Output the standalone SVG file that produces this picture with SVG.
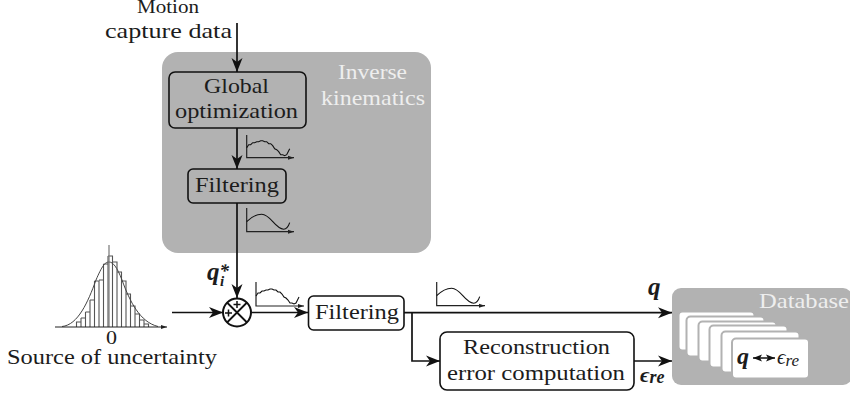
<svg xmlns="http://www.w3.org/2000/svg" width="850" height="394" viewBox="0 0 850 394">
<style>
text{font-family:"Liberation Serif","DejaVu Serif",serif;font-size:21px;fill:#1c1c1c;text-anchor:start}
.w{fill:#eeeeee}
.m{font-weight:bold;font-style:italic}
.i{font-style:italic}
.box{fill:none;stroke:#111;stroke-width:1.6}
.grayp{fill:#b2b2b2}
.card{fill:#fff;stroke:#b2b2b2;stroke-width:2}
.c{fill:none;stroke:#111;stroke-width:1.7}
.a{marker-end:url(#big)}
.ax{fill:none;stroke:#222;stroke-width:1.2;marker-end:url(#small)}
.cv{fill:none;stroke:#111;stroke-width:1.1}
</style>
<defs>
<marker id="big" markerUnits="userSpaceOnUse" markerWidth="15" markerHeight="14" refX="14" refY="7" orient="auto"><path d="M0,1.500 L14,7 L0,12.500 L4,7Z" fill="#111"/></marker>
<marker id="bigs" markerUnits="userSpaceOnUse" markerWidth="14" markerHeight="12" refX="13" refY="6" orient="auto-start-reverse"><path d="M4,2.500 L13,6 L4,9.500 L6,6Z" fill="#111"/></marker>
<marker id="small" markerUnits="userSpaceOnUse" markerWidth="8" markerHeight="6" refX="6" refY="3" orient="auto"><path d="M0,1 L6,3 L0,5Z" fill="#222"/></marker>
<path id="smooth" d="M0,-10 C5,-15 10,-17.500 15,-17.500 C24,-17.500 28,-3 37,-2.500 C40,-2.500 42,-6 43,-9"/>
<path id="noisy" d="M0,-10 L2,-13 L4,-13 L6,-15 L8,-15 L10,-16 L12,-16 L14,-17 L16,-17 L18,-16 L20,-16 L22,-14 L24,-14 L26,-12 L28,-9 L30,-8 L32,-6 L34,-3 L36,-3 L38,-2 L40,-3 L42,-7 L43,-9"/>
</defs>

<g id="inverse-kinematics">
<rect class="grayp" x="162" y="52" width="269" height="201" rx="16"/>
<text class="w" x="338" y="79" textLength="69" lengthAdjust="spacingAndGlyphs">Inverse</text>
<text class="w" x="321" y="105" textLength="104" lengthAdjust="spacingAndGlyphs">kinematics</text>
</g>
<g id="motion-capture-label">
<text x="137" y="13" textLength="62" lengthAdjust="spacingAndGlyphs" style="font-size:19px">Motion</text>
<text x="105" y="38" textLength="127" lengthAdjust="spacingAndGlyphs">capture data</text>
</g>
<g id="global-optimization">
<rect class="box" x="169" y="72" width="137" height="56" rx="6"/>
<text x="204" y="93" textLength="65" lengthAdjust="spacingAndGlyphs">Global</text>
<text x="175" y="118" textLength="123" lengthAdjust="spacingAndGlyphs">optimization</text>
</g>
<g id="filtering-1">
<rect class="box" x="188" y="169" width="98" height="34" rx="5"/>
<text x="195" y="192" textLength="84" lengthAdjust="spacingAndGlyphs">Filtering</text>
</g>
<g id="source-of-uncertainty">
<path fill="none" stroke="#555" stroke-width="1.100" d="M76.500,327 V322 H81 V327 M81,318 V327 M81,318 H85.500 V327 M85.500,312 V327 M85.500,312 H90 V327 M90,300 V327 M90,300 H94.500 V327 M94.500,281 V327 M94.500,281 H99 V327 M99,280 H103.500 V327 M103.500,264 V327 M103.500,264 H108 V327 M108,256 V327 M108,256 H112.500 V327 M112.500,262 H117 V327 M117,272 H121.500 V327 M121.500,281 H126 V327 M126,294 H130.500 V327 M130.500,306 H135 V327 M135,314 H139.500 V327 M139.500,320 H144 V327 M144,324 H148.500 V327"/>
<path fill="none" stroke="#444" stroke-width="1" d="M62,326.500 C78,325 88,302 96,280 C102,266 105,262 109,262 C113,262 117,267 122,280 C130,302 140,322 158,326.500"/>
<path fill="none" stroke="#777" stroke-width="1.200" d="M109,245 V327"/>
<path class="ax" d="M55,327 H167"/>
<text x="106" y="344" textLength="11" lengthAdjust="spacingAndGlyphs" style="font-size:19px">0</text>
<text x="7" y="364" textLength="210" lengthAdjust="spacingAndGlyphs">Source of uncertainty</text>
</g>
<g id="sum">
<circle cx="237" cy="312.500" r="14" fill="none" stroke="#111" stroke-width="2"/>
<path d="M227,302.500 L247,322.500 M247,302.500 L227,322.500" stroke="#111" stroke-width="1.800"/>
<path d="M233.500,304.500 H240.500 M237,301 V308 M225,313 H232 M228.500,309.500 V316.500" stroke="#111" stroke-width="1.500"/>
</g>
<g id="filtering-2">
<rect class="box" x="308.500" y="296" width="95.500" height="34" rx="5" fill="#fff"/>
<text x="315" y="319" textLength="84" lengthAdjust="spacingAndGlyphs">Filtering</text>
</g>
<g id="reconstruction">
<rect class="box" x="440" y="332" width="194" height="58" rx="7"/>
<text x="463" y="354" textLength="147" lengthAdjust="spacingAndGlyphs">Reconstruction</text>
<text x="447" y="380" textLength="178" lengthAdjust="spacingAndGlyphs">error computation</text>
</g>
<g id="database">
<rect class="grayp" x="672" y="288" width="180" height="97" rx="9"/>
<text class="w" x="759" y="308" textLength="90" lengthAdjust="spacingAndGlyphs">Database</text>
<rect class="card" x="678.500" y="311.500" width="76" height="39" rx="4"/>
<rect class="card" x="686.500" y="316.500" width="78" height="40" rx="4"/>
<rect class="card" x="698.500" y="321.500" width="78" height="40" rx="4"/>
<rect class="card" x="709.500" y="325.500" width="78" height="42" rx="4"/>
<rect class="card" x="721.500" y="331.500" width="78" height="41" rx="4"/>
<rect class="card" x="732" y="338.500" width="77" height="40" rx="4"/>
<text class="m" x="737" y="364" style="font-size:24px">q</text>
<path d="M753,358 H775" stroke="#111" stroke-width="1.500" fill="none" marker-start="url(#bigs)" marker-end="url(#bigs)"/>
<text x="777" y="364" class="i">ϵ<tspan dy="2" style="font-size:17px">re</tspan></text>
</g>
<g id="connectors">
<path class="c a" d="M237,23 V72"/>
<path class="c a" d="M237,128 V169"/>
<path class="c a" d="M237,203 V298"/>
<path class="c a" d="M172,312.500 H223"/>
<path class="c a" d="M251,312.500 H308"/>
<path class="c a" d="M404,312.700 H672"/>
<path class="c a" d="M412,312.700 V361 H440"/>
<path class="c a" d="M634,361 H672"/>
</g>
<g id="plots">
<path class="ax" d="M246.700,135 V157.700 H294"/>
<use href="#noisy" class="cv" x="246.700" y="157.700"/>
<path class="ax" d="M246.700,208 V231.700 H294"/>
<use href="#smooth" class="cv" x="246.700" y="231.700"/>
<path class="ax" d="M256,282 V306 H304"/>
<use href="#noisy" class="cv" x="256" y="306"/>
<path class="ax" d="M436.700,282 V305.700 H485"/>
<use href="#smooth" class="cv" x="436.700" y="305.700"/>
</g>
<g id="labels">
<text class="m" x="207" y="280" style="font-size:25px">q<tspan dy="-3" style="font-size:19px">*</tspan><tspan dx="-9" dy="9" style="font-size:15px">i</tspan></text>
<text class="m" x="648" y="295" style="font-size:25px">q</text>
<text class="m" x="640" y="382" style="font-size:22px">ϵ<tspan dy="1" style="font-size:18px">re</tspan></text>
</g>
</svg>
